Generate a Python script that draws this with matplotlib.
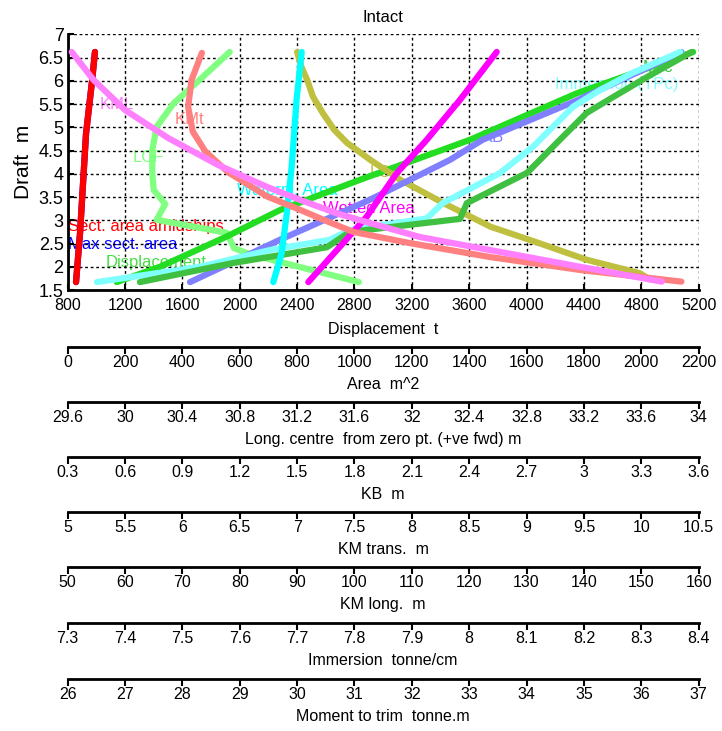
import matplotlib.pyplot as plt
import numpy as np

plt.rcParams['font.family'] = ['Liberation Sans', 'DejaVu Sans']

W, H = 722, 731

# ---- hydrostatic data: each curve has its own draft readings (m) ----
sect_draft = [1.67, 2.72, 4.87, 6.0, 6.62]
sect_area = [29, 43, 64, 85, 95]
max_sect_area = [29, 43, 64, 85, 95]

disp_draft = [1.67, 2.0, 2.65, 3.22, 3.87, 4.73, 5.73, 6.62]
displacement = [1142, 1444, 1909, 2281, 2838, 3605, 4350, 5162]

kb_draft = [1.67, 2.58, 3.44, 4.30, 4.73, 5.57, 6.62]
kb = [0.94, 1.41, 1.88, 2.30, 2.47, 2.96, 3.51]

tpc_draft = [1.67, 2.0, 2.36, 2.58, 2.79, 3.04, 3.37, 4.01, 4.58, 5.01, 5.44, 5.80, 6.17, 6.62]
tpc = [7.351, 7.531, 7.653, 7.757, 7.792, 7.926, 7.954, 8.053, 8.111, 8.146, 8.181, 8.228, 8.285, 8.368]

mtc_draft = [1.67, 2.08, 2.42, 2.75, 3.03, 3.37, 4.02, 4.73, 5.31, 5.65, 6.08, 6.62]
mtc = [27.26, 28.88, 30.52, 30.92, 32.84, 32.96, 34.01, 34.58, 35.05, 35.51, 36.10, 36.88]

wp_draft = [1.67, 2.29, 3.15, 4.15, 5.59, 6.62]
wp_area = [717, 746, 764, 781, 798, 816]

wet_draft = [1.67, 3.08, 4.01, 4.73, 5.59, 6.62]
wet_area = [839, 1043, 1147, 1252, 1368, 1496]

lcb_draft = [1.73, 1.86, 2.15, 2.58, 2.86, 3.37, 3.87, 4.30, 4.66, 4.94, 5.30, 5.66, 6.02, 6.30, 6.62]
lcb = [33.66, 33.59, 33.22, 32.82, 32.55, 32.22, 31.92, 31.71, 31.55, 31.46, 31.38, 31.31, 31.27, 31.23, 31.20]

lcf_draft = [1.67, 2.27, 2.40, 2.73, 3.01, 3.35, 3.65, 4.01, 4.51, 5.01, 5.52, 6.02, 6.62]
lcf = [31.63, 30.87, 30.76, 30.71, 30.22, 30.28, 30.20, 30.19, 30.19, 30.22, 30.34, 30.52, 30.73]

kmt_draft = [1.68, 1.93, 2.21, 2.51, 2.75, 3.00, 3.22, 3.51, 4.03, 4.48, 4.91, 5.44, 6.02, 6.60]
kmt = [10.35, 9.47, 8.68, 7.98, 7.49, 7.24, 7.03, 6.74, 6.40, 6.20, 6.09, 6.05, 6.08, 6.17]

kml_draft = [1.68, 2.0, 2.36, 2.64, 2.94, 3.15, 3.44, 3.72, 4.19, 4.77, 5.37, 6.02, 6.62]
kml = [153.6, 139.3, 123.6, 111.4, 102.7, 96.9, 90.5, 84.7, 76.2, 67.5, 60.0, 54.5, 50.7]

# scale ranges shared by the stacked axes below the plot
disp_range = (800, 5200)
area_range = (0, 2200)
lc_range = (29.6, 34)
kb_range = (0.3, 3.6)
kmt_range = (5, 10.5)
kml_range = (50, 160)
tpc_range = (7.3, 8.4)
mtc_range = (26, 37)

# (values, drafts, scale, colour) in drawing order, bottom -> top
curves = [
    (max_sect_area, sect_draft, area_range, '#0000ff'),
    (sect_area, sect_draft, area_range, '#ff0000'),
    (lcf, lcf_draft, lc_range, '#80ff80'),
    (displacement, disp_draft, disp_range, '#22dd22'),
    (lcb, lcb_draft, lc_range, '#c0c040'),
    (kb, kb_draft, kb_range, '#8080ff'),
    (tpc, tpc_draft, tpc_range, '#80ffff'),
    (mtc, mtc_draft, mtc_range, '#40c040'),
    (wp_area, wp_draft, area_range, '#00ffff'),
    (wet_area, wet_draft, area_range, '#ff00ff'),
    (kmt, kmt_draft, kmt_range, '#ff8080'),
    (kml, kml_draft, kml_range, '#ff80ff'),
]

# curve labels: text, displacement, draft, colour
labels = [
    ('KML', 1025, 5.48, '#ff80ff'),
    ('KMt', 1548, 5.16, '#ff8080'),
    ('LCF', 1255, 4.36, '#80ff80'),
    ('Waterpl. Area', 1981, 3.65, '#00ffff'),
    ('Wetted Area', 2580, 3.26, '#ff00ff'),
    ('Sect. area amidships', 802, 2.86, '#ff0000'),
    ('Max sect. area', 802, 2.47, '#0000ff'),
    ('Displacement', 1067, 2.10, '#44dd44'),
    ('LCB', 2908, 4.02, '#c0c040'),
    ('KB', 3689, 4.77, '#8080ff'),
    ('Immersion (TPc)', 4198, 5.91, '#80ffff'),
    ('MTc', 4812, 6.28, '#40c040'),
]

fig = plt.figure(figsize=(W / 100, H / 100), dpi=100)

left, right = 67.7, 698.6
ax_w = (right - left) / W
ax = fig.add_axes([left / W, 1 - 290 / H, ax_w, (290 - 34.3) / H])
ax.set_xlim(*disp_range)
ax.set_ylim(1.5, 7)
ax.set_xticks(np.arange(800, 5201, 400))
ax.set_yticks(np.arange(1.5, 7.01, 0.5))
ax.set_yticklabels(['%g' % v for v in np.arange(1.5, 7.01, 0.5)], fontsize=13)
ax.tick_params(direction='in', length=4, width=1.5)
ax.tick_params(axis='x', labelsize=11.5, pad=6)
ax.tick_params(axis='y', pad=3)
ax.grid(True, color='black', linestyle=(0, (2, 2)), linewidth=1)
for s in ['top', 'right']:
    ax.spines[s].set_visible(False)
for s in ['left', 'bottom']:
    ax.spines[s].set_linewidth(2)
ax.set_xlabel('Displacement  t', fontsize=11.5, labelpad=6)
ax.set_ylabel('Draft  m', fontsize=15, labelpad=4)
fig.text(383 / W, 1 - 17 / H, 'Intact', fontsize=12, ha='center', va='center')

for txt, x, y, c in labels:
    ax.text(x, y, txt, color=c, fontsize=12, ha='left', va='center', zorder=1)

# each curve sits on its own twin x-axis, scaled to its own range
for vals, drafts, rng, col in curves:
    tw = ax.twiny()
    tw.set_xlim(*rng)
    tw.set_axis_off()
    tw.plot(vals, drafts, color=col, linewidth=4.5, solid_capstyle='round',
            solid_joinstyle='round')

scales = [
    ('Area  m^2', area_range, 347),
    ('Long. centre  from zero pt. (+ve fwd) m', lc_range, 402),
    ('KB  m', kb_range, 457),
    ('KM trans.  m', kmt_range, 512),
    ('KM long.  m', kml_range, 567),
    ('Immersion  tonne/cm', tpc_range, 623),
    ('Moment to trim  tonne.m', mtc_range, 679),
]

for name, rng, ypx in scales:
    sax = fig.add_axes([left / W, 1 - ypx / H, ax_w, 1e-4])
    sax.patch.set_visible(False)
    for s in ['top', 'left', 'right']:
        sax.spines[s].set_visible(False)
    sax.spines['bottom'].set_linewidth(2)
    sax.set_xlim(*rng)
    ticks = np.linspace(rng[0], rng[1], 12)
    sax.set_xticks(ticks)
    sax.set_xticklabels(['%g' % round(t, 2) for t in ticks])
    sax.set_yticks([])
    sax.tick_params(axis='x', direction='out', length=5, width=1.5,
                    labelsize=11.5, pad=1)
    sax.set_xlabel(name, fontsize=11.5, labelpad=5)

fig.savefig('out.png', dpi=100)
